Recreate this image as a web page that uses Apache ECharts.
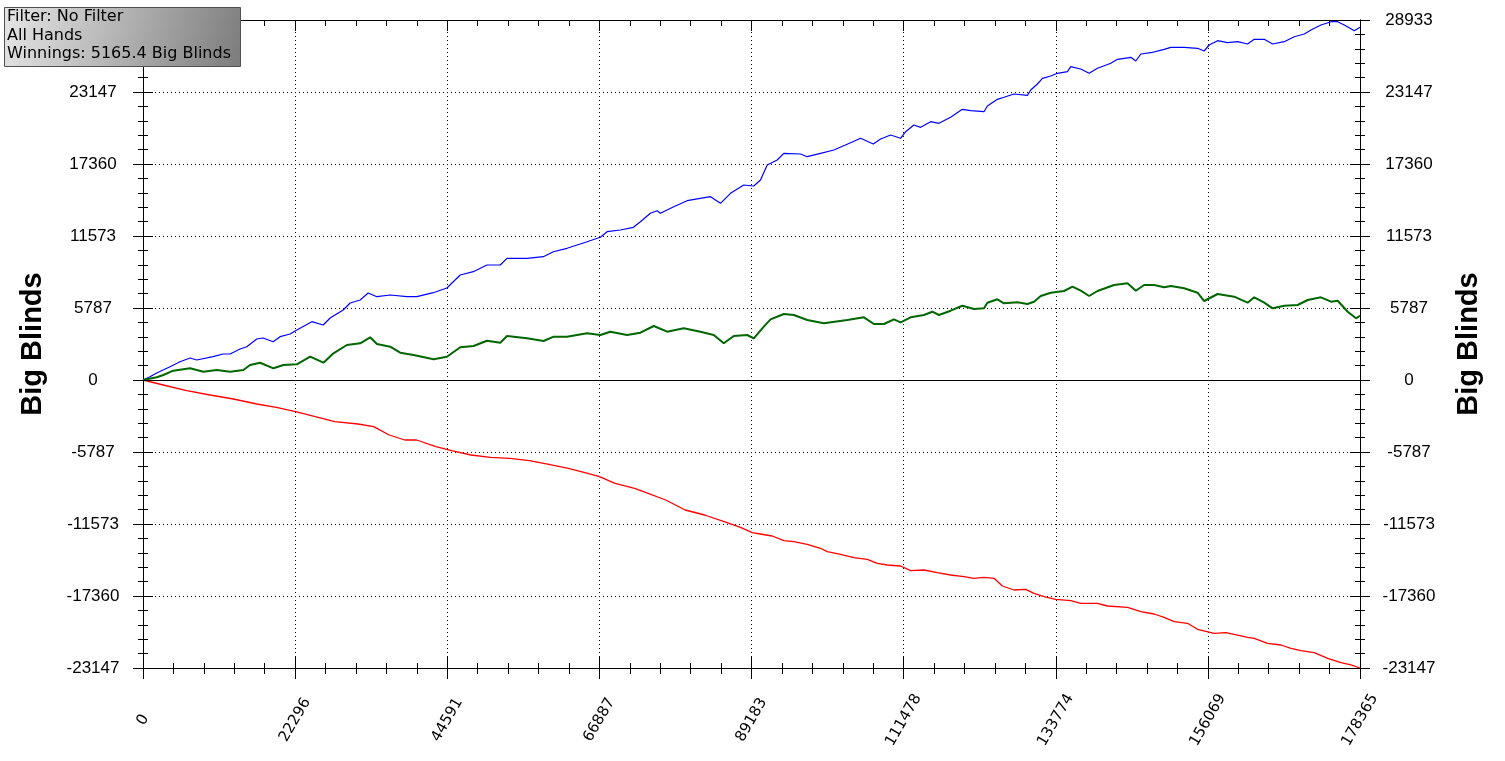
<!DOCTYPE html>
<html>
<head>
<meta charset="utf-8">
<script src="https://cdn.jsdelivr.net/npm/echarts@6/dist/echarts.min.js"></script>
<style>
html,body{margin:0;padding:0;background:#fff;}
#chart{width:1505px;height:761px;}
</style>
</head>
<body>
<div id="chart"></div>
<script>
// ---- data (hands played, big blinds) ----
const xTickLabels = ['0','22296','44591','66887','89183','111478','133774','156069','178365'];
const yTickLabels = ['-23147','-17360','-11573','-5787','0','5787','11573','17360','23147','28933'];
const infoLines = ['Filter: No Filter','All Hands','Winnings: 5165.4 Big Blinds'];
const axisTitle = 'Big Blinds';

const blueHands = [0,1027,2010,3960,5427,6894,7877,10268,11735,12761,14228,15211,16678,17602,19069,20095,21562,22545,24745,26403,27430,29336,30363,31830,33003,34280,36230,38680,40147,42538,44547,45471,46498,48405,50415,52365,53348,56282,58673,60140,62149,63616,65083,67034,68016,69967,71874,72901,74368,75351,75835,77786,79751,83169,84636,86102,88053,89520,90503,91486,92953,93921,96370,97353,99304,101255,103704,105171,107034,108105,109571,111038,111772,112989,113972,115439,116656,118372,120089,121306,123257,123756,125222,126192,127657,129623,130107,131090,131823,133041,134023,135490,135974,137441,138661,139891,141841,142824,144775,145509,146242,147709,149662,150642,152593,154559,155527,156262,157492,158962,160426,161893,162866,164330,165558,167263,168730,170198,171178,172645,174112,175094,176063,177529,178365];
const blueValues = [0,265,563,1069,1471,1768,1607,1873,2090,2090,2491,2676,3295,3376,3078,3480,3697,4019,4686,4420,4983,5626,6188,6430,6992,6695,6831,6695,6695,7016,7394,7900,8439,8704,9243,9243,9781,9781,9910,10311,10585,10850,11115,11469,11919,12056,12272,12723,13398,13607,13398,13928,14410,14732,14201,15005,15672,15592,16074,17280,17681,18220,18164,17947,18220,18485,19072,19426,18967,19369,19690,19426,19956,20494,20309,20760,20631,21113,21756,21644,21563,22021,22560,22721,22986,22881,23307,23790,24248,24432,24649,24779,25180,24995,24649,25051,25453,25775,25936,25638,26200,26305,26578,26739,26739,26659,26442,26924,27270,27109,27189,27004,27382,27382,27004,27189,27591,27808,28130,28531,28797,28797,28531,28073,28347];

const greenHands = [0,2010,2978,4444,6894,8845,10810,12761,14712,15695,17162,19113,20580,22545,24496,26447,27914,29879,31830,33297,34280,36230,37697,39648,42582,44547,46498,48449,50415,52365,53348,56282,58717,60184,62149,65083,67034,68500,70950,72901,74852,76818,79252,81702,83653,85120,86587,88552,89520,90987,91970,93921,95388,97353,99788,103220,105655,107122,108589,110055,111038,112505,114456,115688,116656,118372,120089,121790,123257,123756,125222,126192,128157,129623,130591,131574,133041,134994,136223,137441,138661,139891,142326,144291,145509,146726,148193,149662,150642,152593,154559,155527,157492,159928,161893,162866,164330,165558,167263,169227,170694,172645,174112,175094,176562,177779,178365];
const greenValues = [0,217,402,747,940,667,804,667,804,1206,1390,940,1206,1262,1873,1390,2146,2813,2950,3432,2893,2676,2194,2009,1664,1873,2628,2733,3159,2998,3536,3351,3134,3480,3480,3753,3617,3882,3617,3801,4340,3882,4155,3882,3617,2950,3536,3617,3351,4284,4878,5304,5224,4822,4557,4822,5039,4501,4501,4878,4637,5039,5224,5489,5224,5570,5971,5706,5763,6213,6486,6164,6245,6108,6293,6751,7016,7153,7499,7177,6751,7153,7635,7772,7177,7635,7635,7450,7555,7370,7016,6349,6912,6695,6213,6647,6213,5763,5971,6028,6430,6647,6293,6373,5489,4959,5165];

const redHands = [0,2978,6410,9828,13260,16678,19538,22384,25244,28104,31522,33810,36084,38372,40088,42934,45222,48068,50928,53774,56634,59494,62340,65200,66902,69190,72050,73752,76612,79458,82318,85178,87569,89285,90503,92219,93921,95388,97353,99304,100287,102237,104189,106154,107621,109088,111038,112505,114456,116421,118372,120323,121790,123257,124724,125956,127657,129374,130591,132058,133774,135974,137441,139891,141357,144291,146242,148193,149662,151127,153092,154559,156994,158710,159928,161893,162866,164827,166777,168244,169711,171662,173628,175578,177045,178365];
const redValues = [0,-402,-860,-1206,-1527,-1929,-2194,-2548,-2950,-3351,-3536,-3753,-4420,-4822,-4822,-5361,-5682,-6028,-6213,-6293,-6486,-6775,-7097,-7499,-7772,-8302,-8704,-9058,-9644,-10448,-10850,-11388,-11838,-12272,-12377,-12538,-12915,-12996,-13205,-13526,-13800,-14008,-14282,-14410,-14732,-14868,-14949,-15327,-15270,-15487,-15672,-15809,-15937,-15857,-15937,-16556,-16878,-16821,-17143,-17416,-17625,-17738,-17946,-17946,-18164,-18268,-18622,-18807,-19072,-19425,-19554,-20036,-20358,-20309,-20438,-20679,-20760,-21161,-21298,-21563,-21756,-21917,-22367,-22721,-22905,-23147];

// ---- chart ----
const X_MAX = 178365, X_INT = X_MAX / 8;
const Y_INT = 5786.75, Y_MIN = -4 * Y_INT, Y_MAX = 5 * Y_INT;
const LABEL_FONT = 'Liberation Sans, Arial, sans-serif';

function pairs(xs, ys){ return xs.map((x,i)=>[x, ys[i]]); }
function xLabel(v){ return xTickLabels[Math.round(v / X_INT)] || ''; }
function yLabel(v){ return yTickLabels[Math.round((v - Y_MIN) / Y_INT)] || ''; }

const black = '#000';
function xAxisDef(opts){
  return Object.assign({
    type:'value', min:0, max:X_MAX, interval:X_INT,
    axisLine:{show:true, onZero:false, lineStyle:{color:black,width:1}},
    axisTick:{show:true, length:11, inside:false, lineStyle:{color:black}},
    minorTick:{show:true, splitNumber:5, length:6, lineStyle:{color:black}},
    axisLabel:{show:false},
    splitLine:{show:false}
  }, opts);
}
function yAxisDef(opts){
  return Object.assign({
    type:'value', min:Y_MIN, max:Y_MAX, interval:Y_INT,
    axisLine:{show:true, onZero:false, lineStyle:{color:black,width:1}},
    axisTick:{show:true, length:10, inside:false, lineStyle:{color:black}},
    minorTick:{show:true, splitNumber:5, length:5, lineStyle:{color:black}},
    axisLabel:{show:false},
    splitLine:{show:false}
  }, opts);
}

const chart = echarts.init(document.getElementById('chart'), null, {renderer:'canvas'});
chart.setOption({
  animation:false,
  backgroundColor:'#fff',
  grid:{left:143, right:145, top:20, bottom:93, containLabel:false, outerBoundsMode:'none'},
  xAxis:[
    xAxisDef({position:'bottom',
      axisLabel:{show:true, rotate:60, align:'center', verticalAlign:'middle', margin:52,
        color:black, fontSize:15, fontFamily:'DejaVu Sans, Verdana, sans-serif',
        showMinLabel:true, showMaxLabel:true, formatter:xLabel},
      splitLine:{show:true, lineStyle:{color:black, width:1, type:[1,3]}}
    }),
    xAxisDef({position:'bottom', axisTick:{show:true, inside:true, length:11, lineStyle:{color:black}},
      minorTick:{show:true, splitNumber:5, length:5, lineStyle:{color:black}}}),
    xAxisDef({position:'top', axisTick:{show:true, inside:true, length:11, lineStyle:{color:black}},
      minorTick:{show:true, splitNumber:5, length:6, lineStyle:{color:black}}})
  ],
  yAxis:[
    yAxisDef({position:'left',
      name:axisTitle, nameLocation:'middle', nameRotate:90, nameGap:96,
      nameTextStyle:{fontSize:29, fontWeight:'bold', color:black, fontFamily:LABEL_FONT},
      axisLabel:{show:true, margin:50, align:'center', color:black, fontSize:17, fontFamily:LABEL_FONT,
        showMinLabel:true, showMaxLabel:true, formatter:yLabel},
      splitLine:{show:true, lineStyle:{color:black, width:1, type:[1,3]}}
    }),
    yAxisDef({position:'left', axisTick:{show:true, inside:true, length:10, lineStyle:{color:black}}}),
    yAxisDef({position:'right',
      name:axisTitle, nameLocation:'middle', nameRotate:90, nameGap:94,
      nameTextStyle:{fontSize:29, fontWeight:'bold', color:black, fontFamily:LABEL_FONT},
      axisLabel:{show:true, margin:49, align:'center', color:black, fontSize:17, fontFamily:LABEL_FONT,
        showMinLabel:true, showMaxLabel:true, formatter:yLabel}
    }),
    yAxisDef({position:'right', axisTick:{show:true, inside:true, length:10, lineStyle:{color:black}}})
  ],
  series:[
    {type:'line', name:'zero', xAxisIndex:0, yAxisIndex:0, data:[], silent:true, z:1,
      markLine:{silent:true, symbol:['none','none'], label:{show:false},
        lineStyle:{color:black, width:1, type:'solid'}, data:[{yAxis:0}]}},
    {type:'line', name:'blue', data:pairs(blueHands, blueValues), showSymbol:false, symbol:'none',
      lineStyle:{color:'#0000ff', width:1.2}, itemStyle:{color:'#0000ff'}, z:3},
    {type:'line', name:'green', data:pairs(greenHands, greenValues), showSymbol:false, symbol:'none',
      lineStyle:{color:'#006600', width:2}, itemStyle:{color:'#006600'}, z:4},
    {type:'line', name:'red', data:pairs(redHands, redValues), showSymbol:false, symbol:'none',
      lineStyle:{color:'#ff0000', width:1.3}, itemStyle:{color:'#ff0000'}, z:3}
  ],
  graphic:[
    {type:'rect', left:4, top:7, z:100, zlevel:2, shape:{x:0, y:0, width:236, height:59},
      style:{fill:new echarts.graphic.LinearGradient(0,0,1,1,[
        {offset:0, color:'#e6e6e6'},{offset:1, color:'#7c7c7c'}]),
        stroke:'#505050', lineWidth:1}},
    {type:'text', left:7, top:8, z:101, zlevel:2,
      style:{text:infoLines.join('\n'), font:'16px "DejaVu Sans", Verdana, sans-serif',
        lineHeight:18.5, fill:'#000'}}
  ]
});
</script>
</body>
</html>
